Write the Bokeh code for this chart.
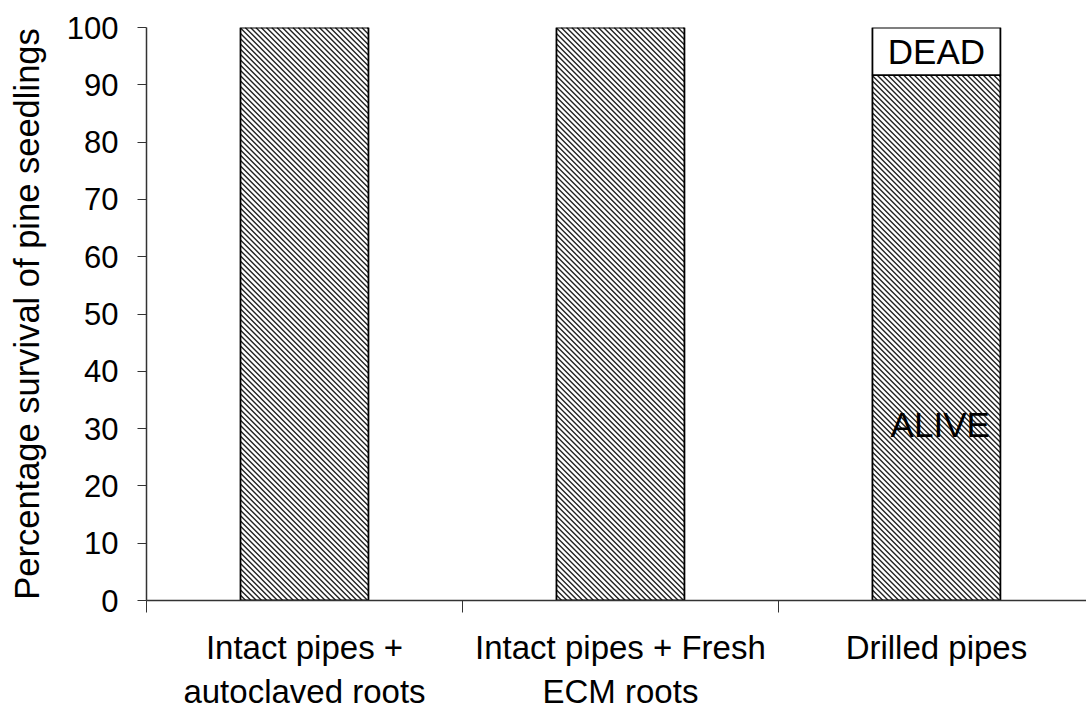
import numpy as np
from bokeh.plotting import figure
from bokeh.models import FixedTicker, Range1d
from bokeh.core.properties import value
from bokeh.embed import file_html
from bokeh.resources import INLINE

categories = ["Intact pipes +\nautoclaved roots", "Intact pipes + Fresh\nECM roots", "Drilled pipes"]
alive = [100, 100, 91.7]
dead = [0, 0, 8.3]
y_ticks = list(range(0, 101, 10))
y_title = "Percentage survival of pine seedlings"

FONT = "Liberation Sans"

FRAME_W, FRAME_H = 940, 573
X_END, Y_END = 2.975, 100.0
xpos = [i + 0.5 for i in range(len(categories))]
bounds = [float(i) for i in range(len(categories) + 1)]
bar_w = 0.405

p = figure(frame_width=FRAME_W, frame_height=FRAME_H,
           x_range=Range1d(0, X_END), y_range=Range1d(0, Y_END),
           output_backend="svg", toolbar_location=None,
           min_border_left=146, min_border_top=27, min_border_right=0, min_border_bottom=5)
p.outline_line_color = None
p.xgrid.visible = False
p.ygrid.visible = False
p.background_fill_color = "white"
p.border_fill_color = "white"

# hatch texture for the ALIVE segments: 45-degree lines clipped to each bar
sx = FRAME_W / X_END   # px per x unit
sy = FRAME_H / Y_END   # px per y unit
period = 5.3           # horizontal hatch period, px
hx0, hy0, hx1, hy1 = [], [], [], []
for xc, top in zip(xpos, alive):
    L = (xc - bar_w / 2) * sx
    R = (xc + bar_w / 2) * sx
    B = 0.0
    T = top * sy
    for c in np.arange(L + B, R + T + period, period):
        xs = max(L, c - T)
        xe = min(R, c - B)
        if xe <= xs:
            continue
        # line x + y = c in pixel space (descending to the right on screen)
        hx0.append(xs / sx); hy0.append((c - xs) / sy)
        hx1.append(xe / sx); hy1.append((c - xe) / sy)

p.vbar(x=xpos, top=alive, bottom=0, width=bar_w, fill_color="white", line_color=None)
p.segment(x0=hx0, y0=hy0, x1=hx1, y1=hy1, line_color="#222222", line_width=1.4)
p.vbar(x=xpos, top=alive, bottom=0, width=bar_w, fill_color=None,
       line_color="black", line_width=1.8)

dx = [x for x, d in zip(xpos, dead) if d > 0]
db = [a for a, d in zip(alive, dead) if d > 0]
dt = [a + d for a, d in zip(alive, dead) if d > 0]
p.vbar(x=dx, bottom=db, top=dt, width=bar_w, fill_color="white",
       line_color="black", line_width=1.8)

dead_y = [b + (t - b) / 2 for b, t in zip(db, dt)]
p.text(x=dx, y=dead_y, text=["DEAD"] * len(dx), text_font=value(FONT),
       text_font_size="35px", text_align="center", text_baseline="middle", text_color="black")
alive_label_y = 30.7
p.text(x=[xpos[-1] + 0.012], y=[alive_label_y], text=["ALIVE"], text_font=value(FONT),
       text_font_size="35px", text_align="center", text_baseline="middle", text_color="black")

# y axis
ya = p.yaxis[0]
ya.ticker = FixedTicker(ticks=y_ticks)
ya.minor_tick_line_color = None
ya.major_tick_in = 0
ya.major_tick_out = 9
ya.major_tick_line_color = "#333333"
ya.axis_line_color = "#333333"
ya.axis_line_width = 1.5
ya.major_label_text_font = FONT
ya.major_label_text_font_size = "31px"
ya.major_label_text_color = "black"
ya.major_label_standoff = 19
ya.axis_label = y_title
ya.axis_label_text_font = FONT
ya.axis_label_text_font_size = "34.5px"
ya.axis_label_text_font_style = "normal"
ya.axis_label_text_color = "black"
ya.axis_label_standoff = 18

# x axis
xa = p.xaxis[0]
xa.ticker = FixedTicker(ticks=xpos, minor_ticks=bounds)
xa.major_label_overrides = {x: c for x, c in zip(xpos, categories)}
xa.major_tick_line_color = None
xa.major_tick_in = 0
xa.major_tick_out = 0
xa.minor_tick_in = 0
xa.minor_tick_out = 12
xa.minor_tick_line_color = "#333333"
xa.axis_line_color = "#333333"
xa.axis_line_width = 1.5
xa.major_label_text_font = FONT
xa.major_label_text_font_size = "33px"
xa.major_label_text_color = "black"
xa.major_label_standoff = 16

open("out.html", "w").write(file_html(p, INLINE))
